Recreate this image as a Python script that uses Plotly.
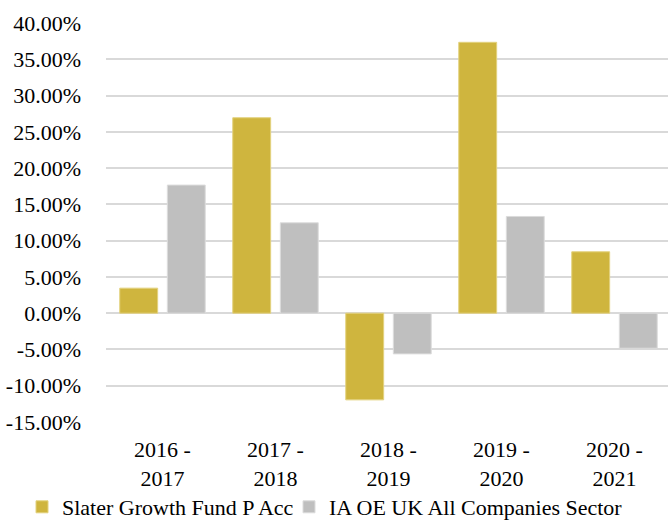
import plotly.graph_objects as go

categories = ["2016 -<br>2017", "2017 -<br>2018", "2018 -<br>2019", "2019 -<br>2020", "2020 -<br>2021"]
slater_values = [3.45, 26.94, -11.95, 37.34, 8.46]
sector_values = [17.66, 12.46, -5.61, 13.33, -4.83]
series_names = ["Slater Growth Fund P Acc", "IA OE UK All Companies Sector"]
tick_values = [-15, -10, -5, 0, 5, 10, 15, 20, 25, 30, 35, 40]
tick_labels = ["%.2f%%" % v for v in tick_values]

FONT = "Liberation Serif, Times New Roman, serif"
FS = 22

fig = go.Figure()
fig.add_trace(go.Bar(
    x=categories, y=slater_values, name=series_names[0], legend="legend",
    marker=dict(color="#CFB53E", line=dict(color="#E3D27E", width=1)),
))
fig.add_trace(go.Bar(
    x=categories, y=sector_values, name=series_names[1], legend="legend2",
    marker=dict(color="#BFBFBF", line=dict(color="#DCDCDC", width=1)),
))

W, H = 668, 521
leg_common = dict(
    orientation="h", xref="container", yref="container",
    xanchor="left", yanchor="middle", y=(H - 507) / H,
    font=dict(family=FONT, size=FS, color="#000000"),
    itemwidth=30, bgcolor="rgba(0,0,0,0)",
)

fig.update_layout(
    width=W, height=H,
    margin=dict(l=106, r=0, t=23, b=99, autoexpand=False),
    paper_bgcolor="white", plot_bgcolor="white",
    barmode="group", bargap=0.158, bargroupgap=0.203,
    font=dict(family=FONT, size=FS, color="#000000"),
    showlegend=True,
    hovermode=False,
    legend=dict(x=22 / W, **leg_common),
    legend2=dict(x=289 / W, **leg_common),
    xaxis=dict(
        range=[-0.5, -0.5 + 562 / 113],
        showgrid=False, zeroline=False, showline=False, ticks="",
        ticklabelstandoff=12, automargin=False,
        tickfont=dict(family=FONT, size=FS, color="#000000"),
        fixedrange=True,
    ),
    yaxis=dict(
        range=[-15, 40],
        tickvals=tick_values, ticktext=tick_labels,
        showgrid=True, gridcolor="#D9D9D9", gridwidth=1.5,
        zeroline=False, showline=False, ticks="",
        ticklabelstandoff=24, automargin=False,
        tickfont=dict(family=FONT, size=FS, color="#000000"),
        fixedrange=True,
    ),
)

fig.write_html("out.html", config={"displayModeBar": False},
               post_script="document.body.style.margin='0';")
